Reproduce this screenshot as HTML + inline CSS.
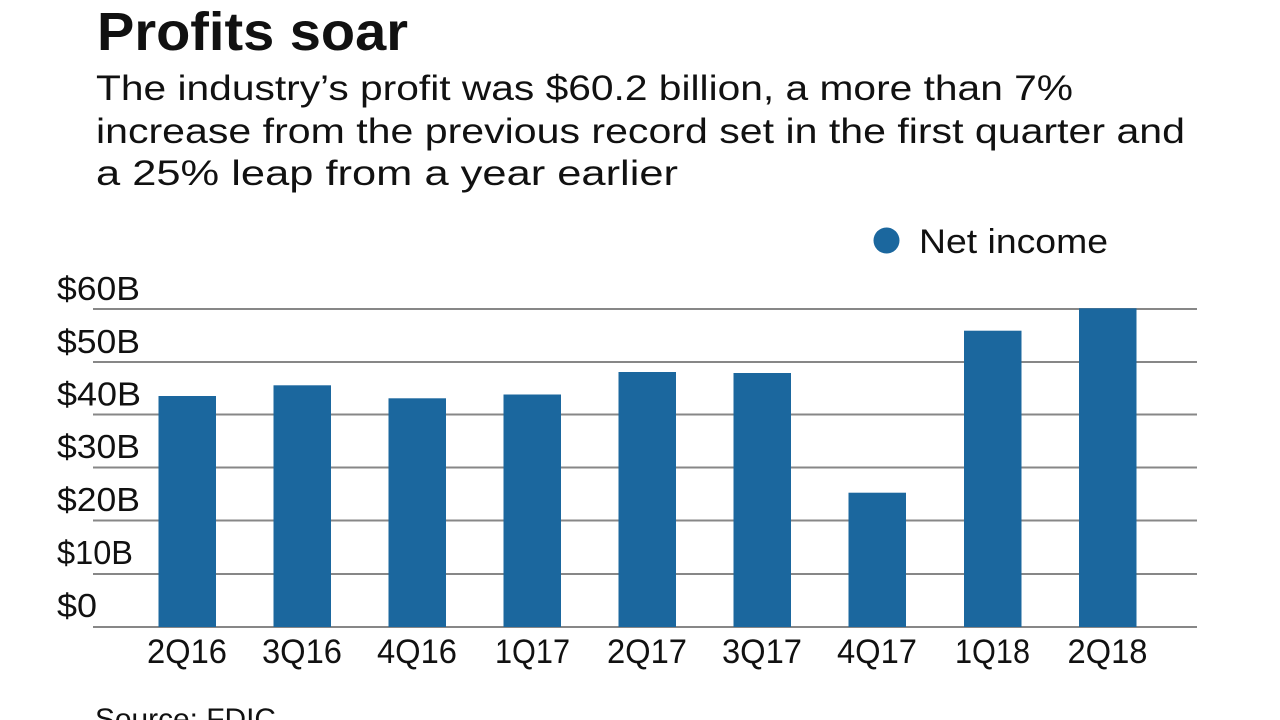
<!DOCTYPE html>
<html>
<head>
<meta charset="utf-8">
<style>
  html, body { margin: 0; padding: 0; background: #ffffff; }
  svg { display: block; }
  text { font-family: "Liberation Sans", sans-serif; fill: #111111; }
</style>
</head>
<body>
<svg width="1280" height="720" viewBox="0 0 1280 720" xmlns="http://www.w3.org/2000/svg">
  <rect x="0" y="0" width="1280" height="720" fill="#ffffff"/>

  <!-- Title -->
  <text x="97" y="50" font-size="54" font-weight="bold" textLength="311" lengthAdjust="spacingAndGlyphs">Profits soar</text>

  <!-- Subtitle -->
  <text x="96" y="100" font-size="35" textLength="977" lengthAdjust="spacingAndGlyphs">The industry’s profit was $60.2 billion, a more than 7%</text>
  <text x="96" y="143" font-size="35" textLength="1089" lengthAdjust="spacingAndGlyphs">increase from the previous record set in the first quarter and</text>
  <text x="96" y="185" font-size="35" textLength="582" lengthAdjust="spacingAndGlyphs">a 25% leap from a year earlier</text>

  <!-- Legend -->
  <circle cx="886.5" cy="240.5" r="13" fill="#1b679e"/>
  <text x="919" y="253" font-size="34" textLength="189" lengthAdjust="spacingAndGlyphs">Net income</text>

  <!-- Gridlines -->
  <g stroke="#878787" stroke-width="2">
    <line x1="93" y1="309" x2="1197" y2="309"/>
    <line x1="93" y1="362" x2="1197" y2="362"/>
    <line x1="93" y1="414.5" x2="1197" y2="414.5"/>
    <line x1="93" y1="467.5" x2="1197" y2="467.5"/>
    <line x1="93" y1="520.5" x2="1197" y2="520.5"/>
    <line x1="93" y1="574" x2="1197" y2="574"/>
    <line x1="93" y1="627" x2="1197" y2="627"/>
  </g>

  <!-- Y labels -->
  <g font-size="33">
    <text x="57" y="300" textLength="83" lengthAdjust="spacingAndGlyphs">$60B</text>
    <text x="57" y="353" textLength="83" lengthAdjust="spacingAndGlyphs">$50B</text>
    <text x="57" y="405.5" textLength="84" lengthAdjust="spacingAndGlyphs">$40B</text>
    <text x="57" y="458" textLength="83" lengthAdjust="spacingAndGlyphs">$30B</text>
    <text x="57" y="511" textLength="83" lengthAdjust="spacingAndGlyphs">$20B</text>
    <text x="57" y="564" textLength="76" lengthAdjust="spacingAndGlyphs">$10B</text>
    <text x="57" y="617" textLength="40" lengthAdjust="spacingAndGlyphs">$0</text>
  </g>

  <!-- Bars -->
  <g fill="#1b679e">
    <rect x="158.5" y="396" width="57.5" height="231"/>
    <rect x="273.5" y="385.3" width="57.5" height="241.7"/>
    <rect x="388.5" y="398.3" width="57.5" height="228.7"/>
    <rect x="503.5" y="394.5" width="57.5" height="232.5"/>
    <rect x="618.5" y="372" width="57.5" height="255"/>
    <rect x="733.5" y="373" width="57.5" height="254"/>
    <rect x="848.5" y="492.7" width="57.5" height="134.3"/>
    <rect x="964" y="330.7" width="57.5" height="296.3"/>
    <rect x="1079" y="308.3" width="57.5" height="318.7"/>
  </g>

  <!-- X labels -->
  <g font-size="34" text-anchor="middle">
    <text x="187" y="663" textLength="80" lengthAdjust="spacingAndGlyphs">2Q16</text>
    <text x="302" y="663" textLength="80" lengthAdjust="spacingAndGlyphs">3Q16</text>
    <text x="417" y="663" textLength="80" lengthAdjust="spacingAndGlyphs">4Q16</text>
    <text x="532.5" y="663" textLength="75" lengthAdjust="spacingAndGlyphs">1Q17</text>
    <text x="647" y="663" textLength="80" lengthAdjust="spacingAndGlyphs">2Q17</text>
    <text x="762" y="663" textLength="80" lengthAdjust="spacingAndGlyphs">3Q17</text>
    <text x="877" y="663" textLength="80" lengthAdjust="spacingAndGlyphs">4Q17</text>
    <text x="992.5" y="663" textLength="75" lengthAdjust="spacingAndGlyphs">1Q18</text>
    <text x="1107.5" y="663" textLength="80" lengthAdjust="spacingAndGlyphs">2Q18</text>
  </g>

  <!-- Source (cut off at bottom) -->
  <text x="95" y="729" font-size="30" textLength="181" lengthAdjust="spacingAndGlyphs">Source: FDIC</text>
</svg>
</body>
</html>
